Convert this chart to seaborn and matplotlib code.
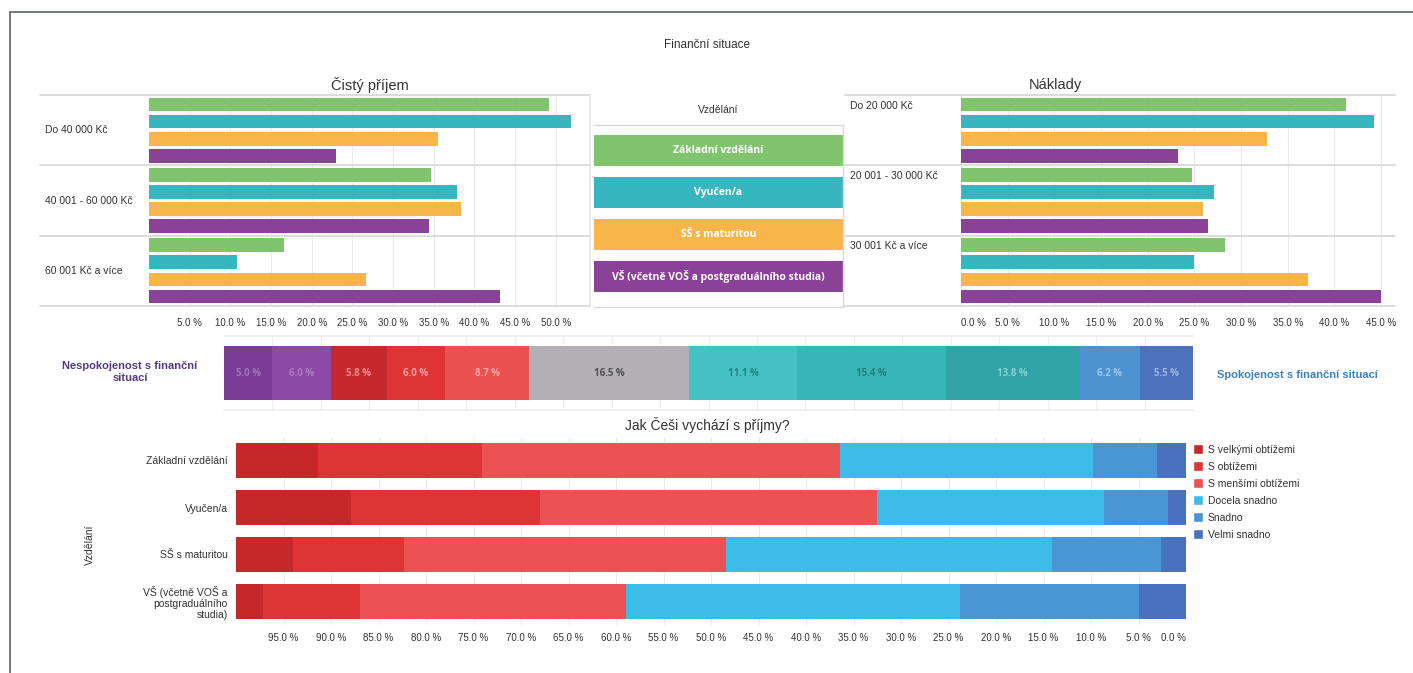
import matplotlib
matplotlib.use("Agg")
import matplotlib.pyplot as plt
from matplotlib.lines import Line2D
from matplotlib.patches import Patch
import numpy as np
import pandas as pd
import seaborn as sns

W, H = 1413, 673

# --- data -------------------------------------------------------------------
education = ["Základní vzdělání", "Vyučen/a", "SŠ s maturitou",
             "VŠ (včetně VOŠ a postgraduálního studia)"]
edu_colors = ["#80c46e", "#38b6bf", "#f8b64a", "#8a4299"]

income_groups = ["Do 40 000 Kč", "40 001 - 60 000 Kč", "60 001 Kč a více"]
income_zakladni = [49.2, 34.6, 16.6]
income_vyucen = [51.9, 37.9, 10.8]
income_ss = [35.5, 38.3, 26.7]
income_vs = [23.0, 34.4, 43.1]

cost_groups = ["Do 20 000 Kč", "20 001 - 30 000 Kč", "30 001 Kč a více"]
cost_zakladni = [41.3, 24.7, 28.3]
cost_vyucen = [44.3, 27.1, 25.0]
cost_ss = [32.8, 25.9, 37.2]
cost_vs = [23.3, 26.5, 45.0]

satisfaction_values = [5.0, 6.0, 5.8, 6.0, 8.7, 16.5, 11.1, 15.4, 13.8, 6.2, 5.5]
satisfaction_colors = ["#7b3c98", "#8c4aa6", "#c6292b", "#dd3536", "#ec5152",
                       "#b2b0b5", "#45c1c3", "#38b5b6", "#31a2a5", "#4c93d0", "#4d72bc"]
satisfaction_text = ["#a274bb", "#a77cbd", "#f08a8a", "#f6a0a0", "#f7a5a5",
                     "#4f4f55", "#1f8486", "#1f8082", "#7fd3d4", "#9cc6ee", "#9db3e2"]

coping_levels = ["S velkými obtížemi", "S obtížemi", "S menšími obtížemi",
                 "Docela snadno", "Snadno", "Velmi snadno"]
coping_colors = ["#c6282a", "#dd3536", "#ec5253", "#3dbce7", "#4a96d4", "#4a71bd"]
coping_rows = ["Základní vzdělání", "Vyučen/a", "SŠ s maturitou",
               "VŠ (včetně VOŠ a\npostgraduálního\nstudia)"]
coping_velkymi = [8.6, 12.1, 6.0, 2.8]
coping_obtizemi = [17.3, 19.9, 11.7, 10.2]
coping_mensimi = [37.7, 35.5, 33.9, 28.0]
coping_docela = [26.6, 23.9, 34.3, 35.2]
coping_snadno = [6.7, 6.7, 11.5, 18.8]
coping_velmi = [3.1, 1.9, 2.6, 5.0]

TXT = "#333333"
GRID = "#ebebeb"
SEP = "#d9d9d9"

sns.set_theme(style="white")
plt.rcParams["font.family"] = ["Liberation Sans", "DejaVu Sans"]

fig = plt.figure(figsize=(W / 100, H / 100), dpi=100)


def add_ax(x0, y0, x1, y1):
    return fig.add_axes([x0 / W, 1 - y1 / H, (x1 - x0) / W, (y1 - y0) / H])


def ftext(x, y, s, **kw):
    fig.text(x / W, 1 - y / H, s, **kw)


def pct(v):
    return f"{v:.1f} %"


# outer frame (top and left edges visible)
fig.add_artist(Line2D([10 / W, 1], [1 - 12 / H, 1 - 12 / H], color="#5c6270", lw=1.2))
fig.add_artist(Line2D([10 / W, 10 / W], [0, 1 - 12 / H], color="#5c6270", lw=1.2))

ftext(707, 45, "Finanční situace", ha="center", va="center", fontsize=8.5, color=TXT)


# --- top grouped bar panels ---------------------------------------------------
def group_panel(ax, groups, series, xmax, ticks, line_x0):
    df = pd.DataFrame({
        "group": groups * len(education),
        "edu": np.repeat(education, len(groups)),
        "value": np.concatenate(series),
    })
    sns.barplot(data=df, x="value", y="group", hue="edu", order=groups,
                hue_order=education, palette=edu_colors, saturation=1,
                orient="h", width=0.97, gap=0.2, errorbar=None,
                legend=False, linewidth=0, ax=ax)
    ax.set_xlim(0, xmax)
    ax.set_ylim(len(groups) - 0.5, -0.5)
    ax.set_xticks(ticks)
    ax.set_xticklabels([pct(t) for t in ticks], fontsize=7, color=TXT)
    ax.set_yticks([])
    ax.set_xlabel("")
    ax.set_ylabel("")
    ax.tick_params(axis="x", length=0, pad=9)
    ax.grid(axis="x", color=GRID, lw=0.9)
    ax.set_axisbelow(True)
    for s in ax.spines.values():
        s.set_visible(False)
    for y in np.arange(len(groups) + 1) - 0.5:
        ax.plot([line_x0, 1], [y, y], transform=ax.get_yaxis_transform(),
                color=SEP, lw=1.3, clip_on=False)


ax_inc = add_ax(149, 95, 590, 306)
group_panel(ax_inc, income_groups,
            [income_zakladni, income_vyucen, income_ss, income_vs],
            54.2, np.arange(5, 55, 5), (40 - 149) / (590 - 149))
ax_inc.spines["right"].set_visible(True)
ax_inc.spines["right"].set_color("#e6e6e6")
for i, g in enumerate(income_groups):
    ax_inc.text((45 - 149) / (590 - 149), i, g, transform=ax_inc.get_yaxis_transform(),
                ha="left", va="center", fontsize=7.5, color=TXT)
ftext(370, 85, "Čistý příjem", ha="center", va="center", fontsize=10.5, color=TXT)

ax_cost = add_ax(961, 95, 1395, 306)
group_panel(ax_cost, cost_groups,
            [cost_zakladni, cost_vyucen, cost_ss, cost_vs],
            46.5, np.arange(0, 50, 5), (845 - 961) / (1395 - 961))
ax_cost.get_xticklabels()[0].set_ha("left")
for i, g in enumerate(cost_groups):
    ax_cost.text((850 - 961) / (1395 - 961), i - 0.42, g,
                 transform=ax_cost.get_yaxis_transform(),
                 ha="left", va="top", fontsize=7.5, color=TXT)
ftext(1055, 85, "Náklady", ha="center", va="center", fontsize=10.5, color=TXT)

# --- colour key for education ----------------------------------------------
ax_key = add_ax(594, 125, 843, 307)
sns.barplot(x=[1] * len(education), y=education, hue=education,
            palette=edu_colors, saturation=1, orient="h", width=0.74,
            legend=False, linewidth=0, ax=ax_key)
ax_key.set_xlim(0, 1)
ax_key.set_ylim(3.74, -0.62)
ax_key.set_xticks([])
ax_key.set_yticks([])
ax_key.set_xlabel("")
ax_key.set_ylabel("")
for name, s in ax_key.spines.items():
    s.set_visible(name in ("top", "bottom", "right"))
    s.set_color(SEP)
    s.set_linewidth(1.0)
for i, e in enumerate(education):
    ax_key.text(0.5, i, e, ha="center", va="center", color="white",
                fontsize=7.5, fontweight="bold", family=["Open Sans", "DejaVu Sans"])
ftext(718, 110, "Vzdělání", ha="center", va="center", fontsize=7.5, color=TXT)

# --- satisfaction strip ---------------------------------------------------
ax_sat = add_ax(224, 336, 1193, 410)
left = 0.0
for v, c, tc in zip(satisfaction_values, satisfaction_colors, satisfaction_text):
    ax_sat.barh(0, v, left=left, height=1.0, color=c, edgecolor="none")
    ax_sat.text(left + v / 2, 0, pct(v), ha="center", va="center", fontsize=7,
                color=tc, fontweight="bold", family=["Open Sans", "DejaVu Sans"])
    left += v
ax_sat.set_xlim(0, 100)
ax_sat.set_ylim(-0.685, 0.685)
ax_sat.set_xticks(np.arange(5, 100, 5))
ax_sat.set_xticklabels([])
ax_sat.set_yticks([])
ax_sat.tick_params(length=0)
ax_sat.grid(axis="x", color="#eeeeee", lw=0.9)
ax_sat.set_axisbelow(True)
for name, s in ax_sat.spines.items():
    s.set_visible(name in ("top", "bottom"))
    s.set_color("#efefef")
ftext(130, 372, "Nespokojenost s finanční\nsituací", ha="center", va="center",
      fontsize=8, color="#553a8c", fontweight="bold", linespacing=1.2)
ftext(1217, 375, "Spokojenost s finanční situací", ha="left", va="center",
      fontsize=8, color="#3f7fc4", fontweight="bold")

# --- coping with income (reversed 100 % stacked bars) -------------------------
ax_cope = add_ax(236, 437, 1186, 625)
coping = pd.DataFrame({
    "row": coping_rows,
    coping_levels[0]: coping_velkymi,
    coping_levels[1]: coping_obtizemi,
    coping_levels[2]: coping_mensimi,
    coping_levels[3]: coping_docela,
    coping_levels[4]: coping_snadno,
    coping_levels[5]: coping_velmi,
})
# each layer is the remaining share, drawn over the previous one
remaining = coping[coping_levels[::-1]].cumsum(axis=1)[coping_levels[::-1]]
for lvl, col in zip(coping_levels, coping_colors):
    sns.barplot(x=remaining[lvl], y=coping["row"], color=col, saturation=1,
                orient="h", width=0.745, errorbar=None, linewidth=0, ax=ax_cope)
ax_cope.set_xlim(100, 0)
ax_cope.set_ylim(3.5, -0.5)
ticks = np.arange(0, 100, 5)
ax_cope.set_xticks(ticks)
ax_cope.set_xticklabels([pct(t) for t in ticks], fontsize=7, color=TXT)
ax_cope.get_xticklabels()[0].set_ha("right")
ax_cope.tick_params(axis="x", length=0, pad=6)
ax_cope.tick_params(axis="y", length=0, pad=6)
plt.setp(ax_cope.get_yticklabels(), fontsize=7.5, color=TXT, linespacing=1.15)
ax_cope.set_xlabel("")
ax_cope.set_ylabel("")
ax_cope.grid(axis="x", color=GRID, lw=0.9)
ax_cope.set_axisbelow(True)
for s in ax_cope.spines.values():
    s.set_visible(False)
ftext(707, 425, "Jak Češi vychází s příjmy?", ha="center", va="center",
      fontsize=10, color=TXT)
ftext(90, 545, "Vzdělání", ha="center", va="center", rotation=90,
      fontsize=7.5, color=TXT)

handles = [Patch(facecolor=c, label=l) for l, c in zip(coping_levels, coping_colors)]
fig.legend(handles=handles, loc="upper left", bbox_to_anchor=(1193 / W, 1 - 444 / H),
           frameon=False, fontsize=7.5, handlelength=1.0, handleheight=1.1,
           handletextpad=0.4, labelspacing=0.62, borderpad=0, borderaxespad=0,
           labelcolor=TXT)

fig.savefig("out.png", dpi=100)
